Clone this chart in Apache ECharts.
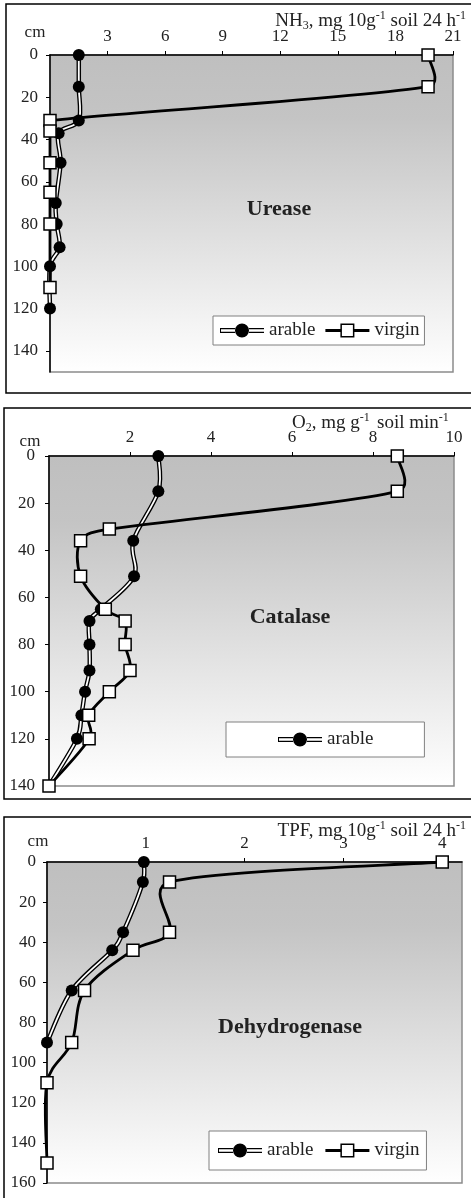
<!DOCTYPE html>
<html><head><meta charset="utf-8">
<script src="https://cdn.jsdelivr.net/npm/echarts@6/dist/echarts.min.js"></script>
<style>html,body{margin:0;padding:0;background:#fff;}#c{width:471px;height:1198px;}</style>
</head><body><div id="c"></div>
<script>
// ---------- DATA ----------
// Urease (NH3, mg 10g-1 soil 24 h-1) vs depth (cm)
const ureaseDepthArable = [0, 15, 31, 37, 51, 70, 80, 91, 100, 120];
const ureaseArable      = [1.5, 1.5, 1.5, 0.45, 0.55, 0.3, 0.35, 0.5, 0, 0];
const ureaseDepthVirgin = [0, 15, 31, 36, 51, 65, 80, 110];
const ureaseVirgin      = [19.7, 19.7, 0, 0, 0, 0, 0, 0];
const ureaseXTicks = [0, 21, 3];   // min, max, interval
const ureaseYTicks = [0, 150, 20];

// Catalase (O2, mg g-1 soil min-1)
const catalaseDepthArable = [0, 15, 36, 51, 65, 70, 80, 91, 100, 110, 120, 140];
const catalaseArable      = [2.7, 2.7, 2.08, 2.1, 1.28, 1.0, 1.0, 1.0, 0.89, 0.8, 0.69, 0];
const catalaseDepthVirgin = [0, 15, 31, 36, 51, 65, 70, 80, 91, 100, 110, 120, 140];
const catalaseVirgin      = [8.6, 8.6, 1.49, 0.78, 0.78, 1.39, 1.88, 1.88, 2.0, 1.49, 0.98, 0.99, 0];
const catalaseXTicks = [0, 10, 2];
const catalaseYTicks = [0, 140, 20];

// Dehydrogenase (TPF, mg 10g-1 soil 24 h-1)
const dehydDepthArable = [0, 10, 35, 44, 64, 90];
const dehydArable      = [0.98, 0.97, 0.77, 0.66, 0.25, 0];
const dehydDepthVirgin = [0, 10, 35, 44, 64, 90, 110, 150];
const dehydVirgin      = [4.0, 1.24, 1.24, 0.87, 0.38, 0.25, 0, 0];
const dehydXTicks = [0, 4.2, 1];
const dehydYTicks = [0, 160, 20];

const panelTitles = ['Urease', 'Catalase', 'Dehydrogenase'];
const seriesNames = ['arable', 'virgin'];

// ---------- BUILD ----------
const F = 'Liberation Serif';
const pairs = (xs, ds) => xs.map((v, i) => [v, ds[i]]);
const bg = {type: 'linear', x: 0, y: 0, x2: 0, y2: 1,
  colorStops: [{offset: 0, color: '#bfbfbf'}, {offset: 0.2, color: '#c4c4c4'}, {offset: 1, color: '#ffffff'}]};

const grids = [
  {left: 50, top: 55, width: 403, height: 317},
  {left: 49, top: 456, width: 405, height: 330},
  {left: 47, top: 862, width: 415, height: 321}
].map(g => Object.assign(g, {show: true, backgroundColor: bg, borderColor: '#8c8c8c', borderWidth: 1.5}));

function xAx(gi, t, hideMax) {
  return {type: 'value', gridIndex: gi, position: 'top', min: t[0], max: t[1], interval: t[2],
    axisLine: {show: true, onZero: false, lineStyle: {color: '#000', width: 1.5}},
    axisTick: {show: true, inside: false, length: 4, lineStyle: {color: '#000', width: 1}},
    axisLabel: {showMinLabel: false, showMaxLabel: !hideMax, margin: 10, color: '#222', fontFamily: F, fontSize: 17},
    splitLine: {show: false}};
}
function yAx(gi, t, hideMax, margin) {
  return {type: 'value', gridIndex: gi, inverse: true, min: t[0], max: t[1], interval: t[2],
    axisLine: {show: true, onZero: false, lineStyle: {color: '#000', width: 1.5}},
    axisTick: {show: true, inside: false, length: 4, lineStyle: {color: '#000', width: 1}},
    axisLabel: {showMaxLabel: !hideMax, margin, color: '#222', fontFamily: F, fontSize: 17},
    splitLine: {show: false}};
}

// Excel-style smoothed line (Bezier, tension 1/6, capped at half the neighbouring segment)
function bezierSegments(pts) {
  const n = pts.length, f = 1 / 6;
  const dist = (a, b) => Math.hypot(a[0] - b[0], a[1] - b[1]);
  const ctrl = pts.map((p, i) => {
    const a = pts[Math.max(i - 1, 0)], b = pts[Math.min(i + 1, n - 1)];
    const d = dist(a, b);
    if (d === 0) return [p, p];
    const ux = (b[0] - a[0]) / d, uy = (b[1] - a[1]) / d;
    const lb = Math.min(d * f, dist(a, p) / 2), lf = Math.min(d * f, dist(p, b) / 2);
    return [[p[0] - ux * lb, p[1] - uy * lb], [p[0] + ux * lf, p[1] + uy * lf]];
  });
  const segs = [];
  for (let i = 0; i < n - 1; i++) {
    segs.push({x1: pts[i][0], y1: pts[i][1], cpx1: ctrl[i][1][0], cpy1: ctrl[i][1][1],
      cpx2: ctrl[i + 1][0][0], cpy2: ctrl[i + 1][0][1], x2: pts[i + 1][0], y2: pts[i + 1][1]});
  }
  return segs;
}
function curveSeries(gi, data, strokes) {
  return {type: 'custom', xAxisIndex: gi, yAxisIndex: gi, data, silent: true, animation: false, clip: false,
    renderItem: (params, api) => {
      if (params.dataIndex !== 0) return null;
      const pts = data.map(d => api.coord(d));
      const segs = bezierSegments(pts);
      const children = [];
      strokes.forEach(s => segs.forEach(sh => children.push({type: 'bezierCurve', shape: sh,
        style: {fill: null, stroke: s.color, lineWidth: s.width, lineCap: 'round', lineJoin: 'round'}})));
      return {type: 'group', children};
    }};
}
function arable(gi, data) {
  return [
    curveSeries(gi, data, [{color: '#000', width: 4.5}, {color: '#fff', width: 1.8}]),
    {type: 'scatter', name: seriesNames[0], xAxisIndex: gi, yAxisIndex: gi, data, symbol: 'circle', symbolSize: 12,
      itemStyle: {color: '#000', borderWidth: 0, opacity: 1}, animation: false}
  ];
}
function virgin(gi, data) {
  return [
    curveSeries(gi, data, [{color: '#000', width: 2.8}]),
    {type: 'scatter', name: seriesNames[1], xAxisIndex: gi, yAxisIndex: gi, data, symbol: 'rect', symbolSize: 12,
      itemStyle: {color: '#fff', borderColor: '#000', borderWidth: 1.5, opacity: 1}, animation: false}
  ];
}

const arableIcon = 'path://M0,4.5H15V5.7H0Z M0,8.3H15V9.5H0Z M0,4.5H1V9.5H0Z M29,4.5H44V5.7H29Z M29,8.3H44V9.5H29Z M15,7A7,7 0 1 1 29,7A7,7 0 1 1 15,7Z';
const virginIcon = 'path://M0,5.5H15.5V8.5H0Z M28.5,5.5H44V8.5H28.5Z M15,0H29V14H15Z M16.5,1.5V12.5H27.5V1.5Z';
const legItem = (name, icon) => ({name, icon, itemStyle: {color: '#000', borderWidth: 0}});
function legend(left, top, pad, gap, items) {
  return {left, top, orient: 'horizontal', padding: pad, itemGap: gap, itemWidth: 44, itemHeight: 14,
    backgroundColor: '#fff', borderColor: '#808080', borderWidth: 1, selectedMode: false,
    textStyle: {fontFamily: F, fontSize: 19, color: '#222'}, data: items};
}

const richStyles = {n: {fontFamily: F, fontSize: 19, lineHeight: 22, fill: '#222'},
  sup: {fontFamily: F, fontSize: 12, lineHeight: 12, verticalAlign: 'top', fill: '#222'},
  sub: {fontFamily: F, fontSize: 12, lineHeight: 12, verticalAlign: 'bottom', fill: '#222'}};
function unitText(right, y, rich) {
  return {type: 'text', right: 471 - right, top: y, z: 100,
    style: {text: rich, fontFamily: F, fontSize: 19, fill: '#222', rich: richStyles}};
}
function unitTextL(left, y, rich) {
  return {type: 'text', left, top: y, z: 100,
    style: {text: rich, fontFamily: F, fontSize: 19, fill: '#222', rich: richStyles}};
}
function txt(x, y, s, size, bold) {
  return {type: 'text', x, y, z: 100, style: {text: s, fontFamily: F, fontSize: size, fontWeight: bold ? 'bold' : 'normal',
    fill: '#222', align: 'center', verticalAlign: 'middle'}};
}

const option = {
  backgroundColor: '#fff',
  animation: false,
  grid: grids,
  xAxis: [xAx(0, ureaseXTicks), xAx(1, catalaseXTicks), xAx(2, dehydXTicks, true)],
  yAxis: [yAx(0, ureaseYTicks, true, 12), yAx(1, catalaseYTicks, false, 14), yAx(2, dehydYTicks, false, 11)],
  legend: [
    legend(213, 316, [5, 5, 5, 7], 10, [legItem(seriesNames[0], arableIcon), legItem(seriesNames[1], virginIcon)]),
    legend(226, 722, [8, 51, 8, 52], 10, [legItem(seriesNames[0], arableIcon)]),
    legend(209, 1131, [10, 7, 10, 9], 12, [legItem(seriesNames[0], arableIcon), legItem(seriesNames[1], virginIcon)])
  ],
  graphic: [
    {type: 'rect', shape: {x: 6, y: 4, width: 480, height: 389}, style: {fill: 'none', stroke: '#000', lineWidth: 1.5}},
    {type: 'rect', shape: {x: 4, y: 408, width: 480, height: 391}, style: {fill: 'none', stroke: '#000', lineWidth: 1.5}},
    {type: 'rect', shape: {x: 4, y: 817, width: 480, height: 400}, style: {fill: 'none', stroke: '#000', lineWidth: 1.5}},
    txt(35, 33, 'cm', 17), txt(30, 442, 'cm', 17), txt(38, 842, 'cm', 17),
    txt(279, 209, panelTitles[0], 22, true), txt(290, 617, panelTitles[1], 22, true), txt(290, 1027, panelTitles[2], 22, true),
    unitText(466, 10, '{n|NH}{sub|3}{n|, mg 10g}{sup|-1}{n| soil 24 h}{sup|-1}'),
    unitTextL(292, 412, '{n|O}{sub|2}{n|, mg g}{sup|-1}'),
    unitTextL(377, 412, '{n|soil min}{sup|-1}'),
    unitText(466, 820, '{n|TPF, mg 10g}{sup|-1}{n| soil 24 h}{sup|-1}')
  ],
  series: [
    ...arable(0, pairs(ureaseArable, ureaseDepthArable)),
    ...virgin(0, pairs(ureaseVirgin, ureaseDepthVirgin)),
    ...arable(1, pairs(catalaseArable, catalaseDepthArable)),
    ...virgin(1, pairs(catalaseVirgin, catalaseDepthVirgin)),
    ...arable(2, pairs(dehydArable, dehydDepthArable)),
    ...virgin(2, pairs(dehydVirgin, dehydDepthVirgin))
  ]
};
const chart = echarts.init(document.getElementById('c'));
chart.setOption(option);
</script>
</body></html>
